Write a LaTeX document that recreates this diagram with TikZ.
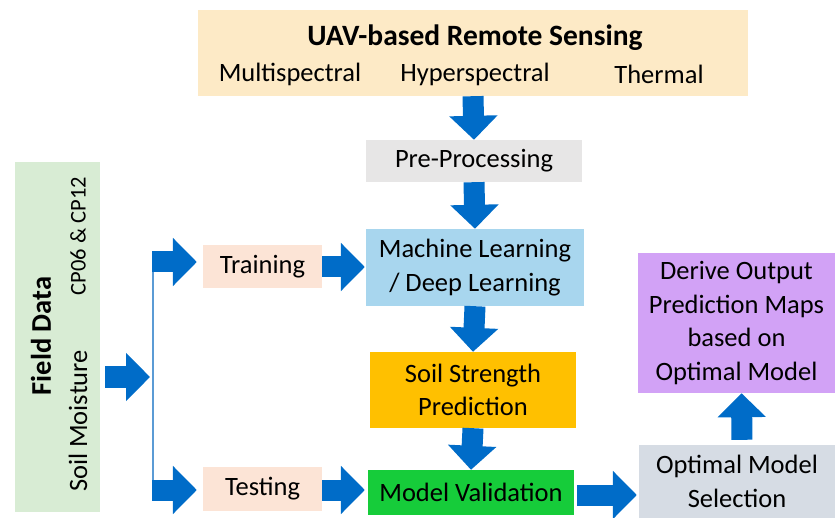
\documentclass[tikz,border=0pt]{standalone}
\usepackage{fontspec}
\setmainfont{Carlito}
\usetikzlibrary{arrows.meta,calc}

\definecolor{flowblue}{RGB}{0,108,200}
\definecolor{linkblue}{RGB}{91,155,213}
\definecolor{uavfill}{RGB}{253,234,198}
\definecolor{prefill}{RGB}{231,230,230}
\definecolor{mlfill}{RGB}{168,214,238}
\definecolor{sspfill}{RGB}{255,192,0}
\definecolor{mvfill}{RGB}{22,204,58}
\definecolor{omsfill}{RGB}{214,220,228}
\definecolor{dopfill}{RGB}{210,162,246}
\definecolor{ttfill}{RGB}{252,228,214}
\definecolor{fieldfill}{RGB}{216,236,212}

\tikzset{
  box/.style={rectangle, inner sep=0pt, align=center, text=black,
    font=\fontsize{26.5}{33.5}\selectfont},
  label/.style={inner sep=0pt, font=\fontsize{26.5}{33}\selectfont},
  smalllabel/.style={inner sep=0pt, font=\fontsize{22.5}{28}\selectfont},
  headline/.style={inner sep=0pt, font=\fontsize{29.5}{35}\selectfont\bfseries},
  fieldhead/.style={inner sep=0pt, font=\fontsize{28.5}{34}\selectfont\bfseries},
  blockarrow/.style={draw=flowblue, line width=21pt,
    -{Triangle[length=24pt,width=47pt]}, color=flowblue},
  feedline/.style={draw=linkblue, line width=1.4pt}
}

\begin{document}
\begin{tikzpicture}[x=1pt,y=-1pt]
  \useasboundingbox (0,0) rectangle (835,518);

  % boxes of the main chain
  \node[box, fill=uavfill, minimum width=550pt, minimum height=86pt] (uav) at (473,53) {};
  \node[headline] (uavtitle) at (475,38) {UAV-based Remote Sensing};
  \node[label] (multi) at (290,74) {Multispectral};
  \node[label] (hyper) at (475,74) {Hyperspectral};
  \node[label] (thermal) at (659,74) {Thermal};

  \node[box, fill=prefill, minimum width=216pt, minimum height=42pt] (pre) at (474,161) {Pre-Processing};
  \node[box, fill=mlfill, minimum width=218pt, minimum height=77pt] (ml) at (475,267.5) {Machine Learning\\/ Deep Learning};
  \node[box, fill=sspfill, minimum width=206pt, minimum height=76pt] (ssp) at (473,390) {Soil Strength\\Prediction};
  \node[box, fill=mvfill, minimum width=206pt, minimum height=45pt] (mv) at (471,492.5) {Model Validation};
  \node[box, fill=omsfill, minimum width=196pt, minimum height=73pt] (oms) at (737,481.5) {Optimal Model\\Selection};
  \node[box, fill=dopfill, minimum width=197pt, minimum height=140pt] (dop) at (736.5,323) {Derive Output\\Prediction Maps\\based on\\Optimal Model};

  \node[box, fill=ttfill, minimum width=119pt, minimum height=43pt] (train) at (262.5,266.5) {Training};
  \node[box, fill=ttfill, minimum width=119pt, minimum height=44pt] (test) at (262.5,489) {Testing};

  % field data panel
  \node[box, fill=fieldfill, minimum width=85pt, minimum height=350pt] (field) at (57.5,337) {};
  \node[fieldhead, rotate=90] (fieldtitle) at (41,336) {Field Data};
  \node[smalllabel, rotate=90] (cp) at (78,236) {CP06 \& CP12};
  \node[label, rotate=90] (moist) at (78,421) {Soil Moisture};

  % split point for training and testing data
  \coordinate (jmid) at (153,377);
  \coordinate (jtop) at (152,262);
  \coordinate (jbot) at (152,490);
  \draw[feedline] (153,262) -- (153,490);

  % connectors
  \draw[blockarrow] (uav.south) -- (pre.north);
  \draw[blockarrow] (pre.south) -- (ml.north);
  \draw[blockarrow] (ml.south) -- (ssp.north);
  \draw[blockarrow] (ssp.south) -- (mv.north);
  \draw[blockarrow, shorten <=3pt, shorten >=2pt] (mv.east |- 0,495) -- (oms.west |- 0,495);
  \draw[blockarrow, shorten <=5pt] ([xshift=5pt]oms.north) -- ([xshift=5pt]dop.south);
  \draw[blockarrow, shorten >=1pt] (train.east |- 0,267) -- (ml.west |- 0,267);
  \draw[blockarrow, shorten >=3pt] (test.east |- 0,490) -- (mv.west |- 0,490);
  \draw[blockarrow, shorten <=5pt, shorten >=3pt] (field.east |- jmid) -- (jmid);
  \draw[blockarrow, shorten >=6pt] (jtop) -- (jtop -| train.west);
  \draw[blockarrow, shorten >=6pt] (jbot) -- (jbot -| test.west);
\end{tikzpicture}
\end{document}
